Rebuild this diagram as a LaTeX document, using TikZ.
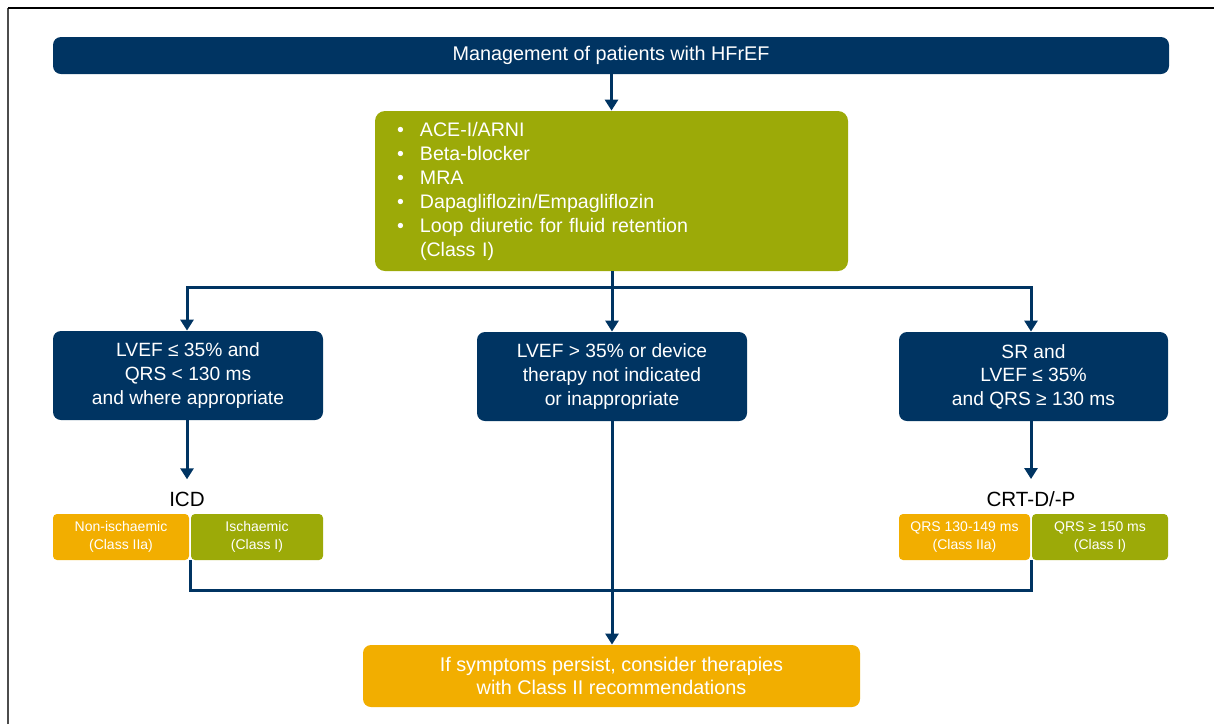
\documentclass[tikz,border=0pt]{standalone}
\usepackage{fontspec}
\setmainfont{Liberation Sans}
\usetikzlibrary{arrows.meta,calc}
\definecolor{navy}{RGB}{0,52,98}
\definecolor{olive}{RGB}{156,170,8}
\definecolor{amber}{RGB}{242,174,0}
\tikzset{
  box/.style={rounded corners=4pt, inner sep=0pt, text=white, align=center,
     font=\fontsize{9.6pt}{11.8pt}\selectfont},
  navybox/.style={box, fill=navy},
  smallbox/.style={rounded corners=2pt, inner sep=0pt, text=white, align=center,
     font=\fontsize{7pt}{9pt}\selectfont},
  lbl/.style={inner sep=0pt, font=\fontsize{10.3pt}{11pt}\selectfont, text=black},
  conn/.style={navy, line width=1.5pt},
  tip/.tip={Triangle[width=6.5pt,length=5.5pt]},
  arr/.style={conn, -tip},
}
\newcommand{\bitem}[1]{\makebox[11.5pt][l]{\textbullet}#1}
\begin{document}
\begin{tikzpicture}[x=0.5pt,y=-0.5pt]
\useasboundingbox (0,0) rectangle (1214,724);
% frame
\draw[black!70, line width=1.2pt] (8,724) -- (8,8);
\draw[black, line width=0.6pt] (8,8) -- (1214,8);

% top bar
\node[navybox, minimum width=558pt, minimum height=18.5pt,
      font=\fontsize{9.9pt}{11.8pt}\selectfont] (top) at (611,55.5)
  {Management of patients with HFrEF};

% green box
\node[box, fill=olive, rounded corners=5pt, minimum width=236.5pt, minimum height=80pt,
      text width=214.5pt, align=left, inner xsep=11pt,
      font=\fontsize{9.8pt}{12pt}\selectfont] (meds) at (611.5,191)
  {\bitem{ACE-I/ARNI}\\
   \bitem{Beta-blocker}\\
   \bitem{MRA}\\
   \bitem{Dapagliflozin/Empagliflozin}\\
   \bitem{Loop diuretic for fluid retention}\\
   \hspace*{11.5pt}(Class I)};

% three condition boxes
\node[navybox, minimum width=135pt, minimum height=44.5pt] (left) at (188,375.5)
  {LVEF ≤ 35\% and\\QRS < 130 ms\\and where appropriate};
\node[navybox, minimum width=135pt, minimum height=44.5pt] (mid) at (612,376.5)
  {LVEF > 35\% or device\\therapy not indicated\\or inappropriate};
\node[navybox, minimum width=134.5pt, minimum height=44.5pt] (right) at (1033.5,376.5)
  {SR and\\LVEF ≤ 35\%\\and QRS ≥ 130 ms};

% labels
\node[lbl] (icd) at (187,499) {ICD};
\node[lbl] (crt) at (1031,499) {CRT-D/-P};

% small boxes
\node[smallbox, fill=amber, minimum width=68pt, minimum height=23pt] (nonisch) at (121,537)
  {Non-ischaemic\\(Class IIa)};
\node[smallbox, fill=olive, minimum width=66pt, minimum height=23pt] (isch) at (257,537)
  {Ischaemic\\(Class I)};
\node[smallbox, fill=amber, minimum width=65.5pt, minimum height=23pt] (qrsa) at (964.5,537)
  {QRS 130-149 ms\\(Class IIa)};
\node[smallbox, fill=olive, minimum width=68pt, minimum height=23pt] (qrsb) at (1100,537)
  {QRS ≥ 150 ms\\(Class I)};

% bottom box
\node[box, fill=amber, minimum width=248.5pt, minimum height=31pt,
      font=\fontsize{9.9pt}{11.5pt}\selectfont] (persist) at (611.5,676)
  {If symptoms persist, consider therapies\\with Class II recommendations};

% connectors
\coordinate (jl) at (187,287);
\coordinate (jr) at (1031,287);
\draw[arr] (top.south -| meds.north) -- (meds.north);
\draw[arr] (meds.south -| mid.north) -- (mid.north);
\draw[conn, tip-tip] (jl |- left.north) -- (jl) -- (jr) -- (jr |- right.north);
\draw[arr] (left.south -| icd.north) -- ([yshift=6pt]icd.north);
\draw[arr] (right.south -| crt.north) -- ([yshift=6pt]crt.north);
\coordinate (bl) at (190,590);
\coordinate (br) at (1031,590);
\draw[conn] (nonisch.south east -| bl) -- (bl) -- (br) -- (qrsa.south east -| br);
\draw[arr] (mid.south) -- (persist.north -| mid.south);
\end{tikzpicture}
\end{document}
